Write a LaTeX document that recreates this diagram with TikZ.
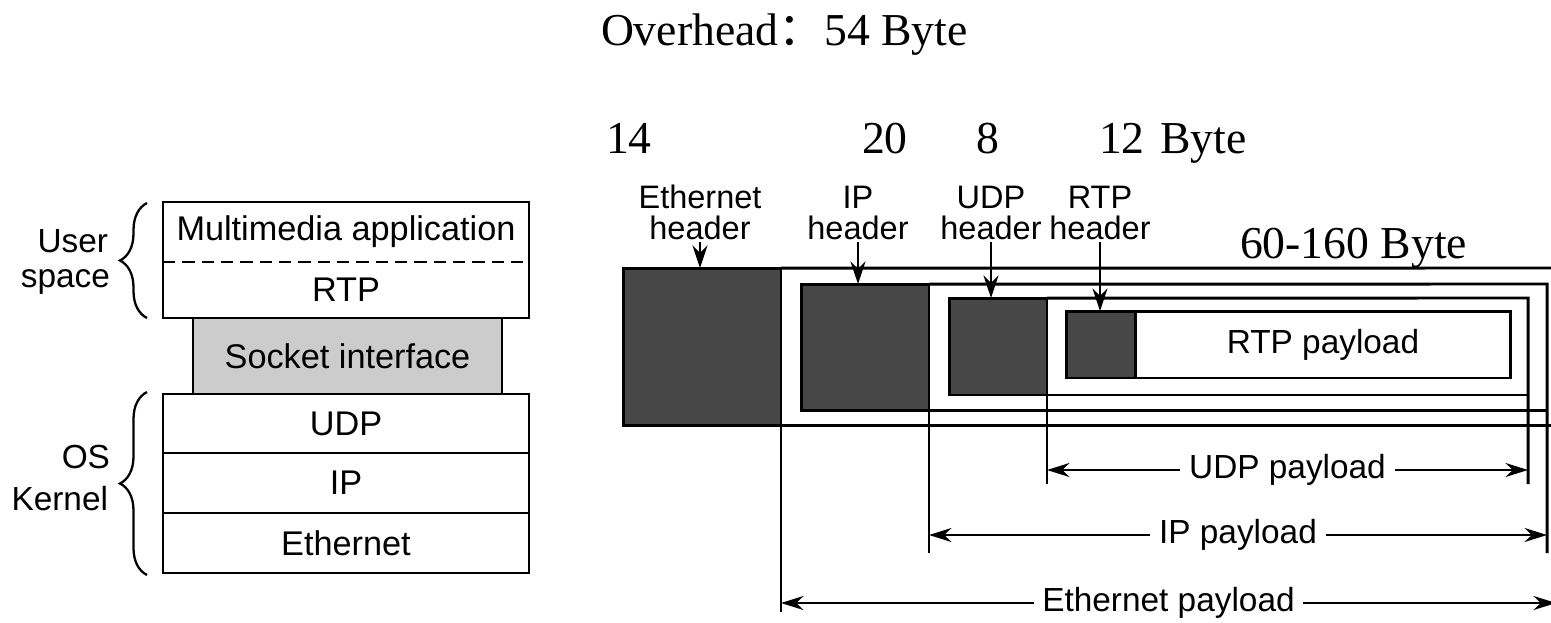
\documentclass[tikz,border=0pt]{standalone}
\usepackage{fontspec}
\setmainfont{Liberation Serif}
\setsansfont{Liberation Sans}
\newfontfamily\cjk{Noto Sans CJK SC}
\usetikzlibrary{arrows.meta, decorations.pathreplacing}

\begin{document}
\begin{tikzpicture}[x=0.02cm, y=-0.02cm,
    every node/.style={outer sep=0pt},
    layer/.style={rectangle, minimum width=7.32cm, inner sep=0pt, font=\sffamily\fontsize{19.5}{22}\selectfont},
    hdr/.style={rectangle, draw, line width=1.7pt, fill=black!72, inner sep=0pt},
    lbl/.style={align=center, inner sep=1pt, font=\sffamily\fontsize{18.5}{18}\selectfont},
    side/.style={inner sep=0pt, font=\sffamily\fontsize{19}{22}\selectfont},
    num/.style={inner sep=0pt, font=\fontsize{26}{30}\selectfont},
    frame/.style={line width=1.7pt},
    curly/.style={decorate, decoration={brace, amplitude=0.54cm}, line width=1.3pt},
    ptr/.style={-{Stealth[length=4.5mm, width=3mm]}, line width=1.4pt},
    dim/.style={{Stealth[length=4.5mm, width=2.8mm]}-{Stealth[length=4.5mm, width=2.8mm]}, line width=1.4pt},
    dimtext/.style={fill=white, inner xsep=5pt, inner ysep=1pt, font=\sffamily\fontsize{19}{22}\selectfont}
]
    \useasboundingbox (0,0) rectangle (1551,622);

    % Protocol stack
    \node[layer, draw, line width=1.5pt, fill=black!20, minimum width=6.18cm, minimum height=1.52cm] (socket) at (347.5,356) {Socket interface};
    \node[layer, minimum height=1.2cm] (app) at (346,232) {Multimedia application};
    \node[layer, minimum height=1.12cm] (rtp) at (346,290) {RTP};
    \draw[line width=1.5pt] (app.north west) rectangle (rtp.south east);
    \draw[dash pattern=on 7pt off 4pt, line width=1.2pt] (app.south west) -- (app.south east);
    \node[layer, draw, line width=1.5pt, minimum height=1.18cm] (udp) at (346,423.5) {UDP};
    \node[layer, draw, line width=1.5pt, minimum height=1.2cm] (ip) at (346,483) {IP};
    \node[layer, draw, line width=1.5pt, minimum height=1.2cm] (eth) at (346,543) {Ethernet};

    % Braces
    \draw[curly] (147,318) -- (147,203);
    \draw[curly] (147,575) -- (147,392);
    \node[side, anchor=base east] (user) at (108,252) {User};
    \node[side, anchor=base east] (space) at (110,287) {space};
    \node[side, anchor=base east] (os) at (110,468) {OS};
    \node[side, anchor=base east] (kernel) at (108,510) {Kernel};

    % Byte counts
    \node[num, anchor=base west] (ovh) at (601,45) {Overhead{\cjk ：}54 Byte};
    \node[num, anchor=base west] (n14) at (606,153) {14};
    \node[num, anchor=base west] (n20) at (862,153) {20};
    \node[num, anchor=base west] (n8) at (976,153) {8};
    \node[num, anchor=base west] (n12) at (1099,153) {12};
    \node[num, anchor=base west] (byte) at (1160,153) {Byte};
    \node[num, anchor=base west] (payb) at (1240,258) {60-160 Byte};

    % Packet headers
    \node[hdr, minimum width=3.16cm, minimum height=3.16cm] (ethhdr) at (702,347) {};
    \node[hdr, minimum width=2.56cm, minimum height=2.54cm] (iphdr) at (865,347.5) {};
    \node[hdr, minimum width=1.96cm, minimum height=1.94cm] (udphdr) at (998,346.5) {};
    \node[hdr, minimum width=1.38cm, minimum height=1.34cm] (rtphdr) at (1100.5,344.5) {};
    \node[rectangle, draw, line width=1.7pt, minimum width=7.52cm, minimum height=1.34cm, anchor=west, font=\sffamily\fontsize{19}{22}\selectfont] (rtppay) at (rtphdr.east) {RTP payload};

    \node[lbl, anchor=south] (ethlbl) at (700,242) {Ethernet\\header};
    \node[lbl, anchor=south] (iplbl) at (858,242) {IP\\header};
    \node[lbl, anchor=south] (udplbl) at (991,242) {UDP\\header};
    \node[lbl, anchor=south] (rtplbl) at (1100,242) {RTP\\header};
    \draw[ptr] (ethlbl.south) -- (ethlbl.south |- ethhdr.north);
    \draw[ptr] (iplbl.south) -- (iplbl.south |- iphdr.north);
    \draw[ptr] (udplbl.south) -- (udplbl.south |- udphdr.north);
    \draw[ptr] (rtplbl.south) -- (rtplbl.south |- rtphdr.north);

    % Frames
    \coordinate (ethR) at (1556,268);
    \coordinate (ipR) at (1547,284);
    \coordinate (udpR) at (1528,298);
    \draw[frame] (ethhdr.north east) -- (ethR);
    \draw[frame] (ethhdr.south east) -- (ethR |- ethhdr.south);
    \draw[frame] (iphdr.north east) -- (ipR) -- ++(0,269);
    \draw[frame] (iphdr.south east) -- (ipR |- iphdr.south);
    \draw[frame] (udphdr.north east) -- (udpR) -- ++(0,186);
    \draw[frame] (udphdr.south east) -- (udpR |- udphdr.south);
    \draw[frame] (ethhdr.south east) -- ++(0,186);
    \draw[frame] (iphdr.south east) -- ++(0,142);
    \draw[frame] (udphdr.south east) -- ++(0,89);

    % Payload spans
    \coordinate (lvudp) at (0,470);
    \coordinate (lvip) at (0,535);
    \coordinate (lveth) at (0,603);
    \draw[dim] (udphdr.south east |- lvudp) -- node[dimtext] {UDP payload} (udpR |- lvudp);
    \draw[dim] (iphdr.south east |- lvip) -- node[dimtext] {IP payload} (ipR |- lvip);
    \draw[dim] (ethhdr.south east |- lveth) -- node[dimtext] {Ethernet payload} (ethR |- lveth);
\end{tikzpicture}
\end{document}
